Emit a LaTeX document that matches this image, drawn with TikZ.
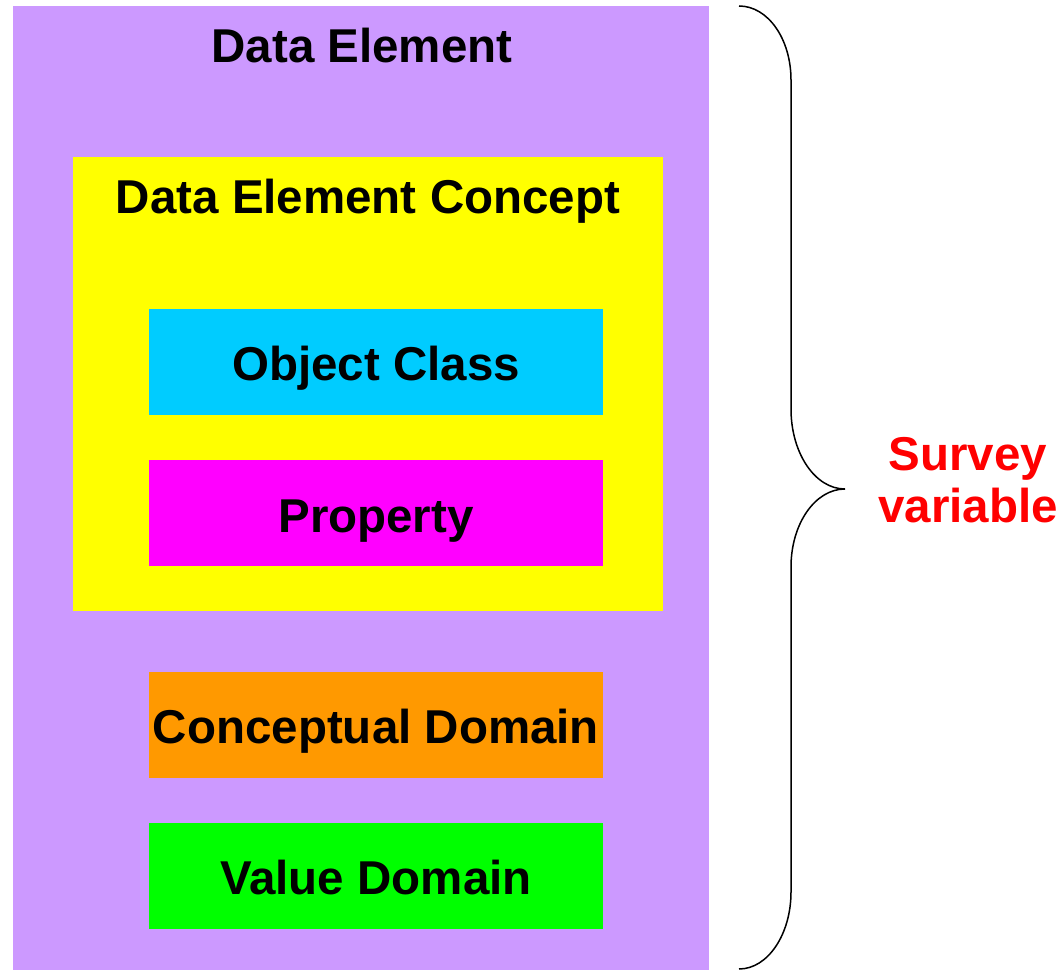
\documentclass[tikz,border=0pt]{standalone}
\usepackage{fontspec}
\setmainfont{Liberation Sans}
\definecolor{delilac}{HTML}{CC99FF}
\definecolor{decyellow}{HTML}{FFFF00}
\definecolor{occyan}{HTML}{00CCFF}
\definecolor{propmag}{HTML}{FF00FF}
\definecolor{cdorange}{HTML}{FF9900}
\definecolor{vdgreen}{HTML}{00FF00}
\definecolor{svred}{HTML}{FF0000}
\tikzset{
  panel/.style={draw=none, inner sep=0pt, outer sep=0pt, anchor=north west},
  label/.style={font=\fontsize{47.5}{52}\selectfont\bfseries, inner sep=0pt, anchor=base, text=black},
  bracepath/.style={draw=black, line width=1.5pt}
}
\begin{document}
\begin{tikzpicture}[x=1pt,y=-1pt]
\useasboundingbox (0,0) rectangle (1060,971);
% boxes
\node[panel, fill=delilac, minimum width=696pt, minimum height=964pt] (de) at (13,6) {};
\node[panel, fill=decyellow, minimum width=590pt, minimum height=454pt] (dec) at (73,157) {};
\node[panel, fill=occyan, minimum width=454pt, minimum height=106pt] (oc) at (149,309) {};
\node[panel, fill=propmag, minimum width=454pt, minimum height=106pt] (prop) at (149,460) {};
\node[panel, fill=cdorange, minimum width=454pt, minimum height=106pt] (cd) at (149,672) {};
\node[panel, fill=vdgreen, minimum width=454pt, minimum height=106pt] (vd) at (149,823) {};
% labels
\node[label] (deL) at (362,63) {Data Element};
\node[label] (decL) at (368,213) {Data Element Concept};
\node[label] (ocL) at (376,380) {Object Class};
\node[label] (propL) at (376,532) {Property};
\node[label] (cdL) at (376,743) {Conceptual Domain};
\node[label] (vdL) at (376,894) {Value Domain};
% brace
\coordinate (bt) at (739,6);
\coordinate (tip) at (845,489);
\coordinate (bb) at (739,969);
\draw[bracepath] (bt) .. controls (768,6) and (791,39) .. (791,80)
  -- (791,409) .. controls (791,453) and (815,489) .. (tip)
  .. controls (815,489) and (791,524) .. (791,567)
  -- (791,892) .. controls (791,934) and (768,969) .. (bb);
\node[label, text=svred, align=center] (sv) at (968,522) {Survey\\variable};
\end{tikzpicture}
\end{document}
